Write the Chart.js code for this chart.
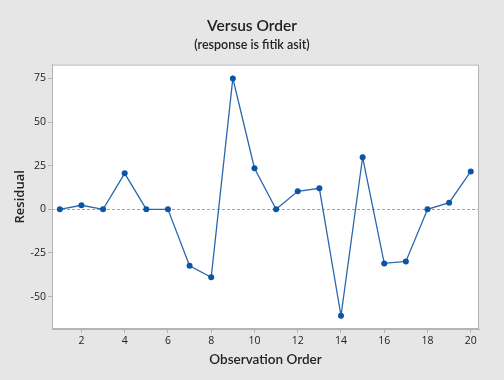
<!DOCTYPE html>
<html>
<head>
<meta charset="utf-8">
<script src="https://cdn.jsdelivr.net/npm/chart.js@4"></script>
<style>
  html, body { margin: 0; padding: 0; background: #e6e6e6; }
  #wrap { width: 504px; height: 380px; position: relative; }
</style>
</head>
<body>
<div id="wrap"><canvas id="orderChart"></canvas></div>
<script>
// residuals, one per observation
const observations = [1, 2, 3, 4, 5, 6, 7, 8, 9, 10, 11, 12, 13, 14, 15, 16, 17, 18, 19, 20];
const residuals = [0, 2.3, 0, 20.6, 0, 0, -32.4, -39, 75, 23.5, 0, 10.3, 12, -61, 29.8, -31, -29.9, 0, 3.8, 21.7];
const xTicks = [2, 4, 6, 8, 10, 12, 14, 16, 18, 20];
const yTicks = [-50, -25, 0, 25, 50, 75];

const fontFamily = '"Open Sans", Lato, sans-serif';
const titleFamily = 'Lato, "Open Sans", sans-serif';
const lineColor = "#2a67ad";
const pointColor = "#0b56a4";
const frameColor = "#b4b4b4";
const textColor = "#222222";

// white plot area, outer frame and dashed zero line
const plotFrame = {
  id: 'plotFrame',
  beforeDraw(chart) {
    const { ctx, chartArea: a } = chart;
    ctx.save();
    ctx.fillStyle = '#ffffff';
    ctx.fillRect(a.left, a.top, a.right - a.left, a.bottom - a.top);
    ctx.restore();
  },
  beforeDatasetsDraw(chart) {
    const { ctx, chartArea: a, scales } = chart;
    const y0 = scales.y.getPixelForValue(0);
    ctx.save();
    ctx.strokeStyle = '#a0a0a0';
    ctx.lineWidth = 1;
    ctx.setLineDash([3, 2]);
    ctx.beginPath();
    ctx.moveTo(a.left, Math.round(y0) + 0.5);
    ctx.lineTo(a.right, Math.round(y0) + 0.5);
    ctx.stroke();
    ctx.setLineDash([]);
    ctx.strokeStyle = frameColor;
    ctx.strokeRect(a.left + 0.5, a.top + 0.5, a.right - a.left - 1, a.bottom - a.top - 1);
    ctx.restore();
  }
};

const ctx = document.getElementById("orderChart").getContext("2d");
const orderChart = new Chart(ctx, {
  type: 'line',
  data: {
    datasets: [{
      label: "Residual",
      data: observations.map((o, i) => ({ x: o, y: residuals[i] })),
      borderColor: lineColor,
      borderWidth: 1.3,
      pointRadius: 3,
      pointBackgroundColor: pointColor,
      pointBorderColor: pointColor,
      pointBorderWidth: 0,
      tension: 0
    }]
  },
  options: {
    responsive: true,
    maintainAspectRatio: false,
    animation: false,
    layout: { padding: 0 },
    scales: {
      x: {
        type: 'linear',
        min: 0.64,
        max: 20.38,
        afterBuildTicks: (scale) => { scale.ticks = xTicks.map(v => ({ value: v })); },
        afterFit: (scale) => { scale.height = 51; },
        grid: { drawOnChartArea: false, tickLength: 4, color: frameColor },
        border: { color: frameColor },
        ticks: { color: textColor, font: { family: fontFamily, size: 10.5 }, padding: 2, maxRotation: 0 },
        title: {
          display: true,
          text: 'Observation Order',
          color: textColor,
          font: { family: titleFamily, size: 13.5, weight: '600' },
          padding: { top: 0, bottom: 12 }
        }
      },
      y: {
        min: -68.6,
        max: 82.9,
        afterBuildTicks: (scale) => { scale.ticks = yTicks.map(v => ({ value: v })); },
        afterFit: (scale) => { scale.width = 52; },
        grid: { drawOnChartArea: false, tickLength: 4, color: frameColor },
        border: { color: frameColor },
        ticks: { color: textColor, font: { family: fontFamily, size: 10.5 }, padding: 2 },
        title: {
          display: true,
          text: 'Residual',
          color: textColor,
          font: { family: fontFamily, size: 13, weight: '600' },
          padding: { top: 12, bottom: 0 }
        }
      },
      // empty strip on the right so the titles centre on the whole figure
      yRight: {
        position: 'right',
        display: true,
        afterFit: (scale) => { scale.width = 25; },
        grid: { display: false },
        border: { display: false },
        ticks: { display: false }
      }
    },
    plugins: {
      legend: { display: false },
      tooltip: { enabled: false },
      title: {
        display: true,
        text: 'Versus Order',
        color: textColor,
        font: { family: titleFamily, size: 15.5, weight: '600' },
        padding: { top: 17, bottom: 0 }
      },
      subtitle: {
        display: true,
        text: '(response is fitik asit)',
        color: textColor,
        font: { family: titleFamily, size: 12.5, weight: '600' },
        padding: { top: 2, bottom: 12 }
      }
    }
  },
  plugins: [plotFrame]
});
</script>
</body>
</html>
